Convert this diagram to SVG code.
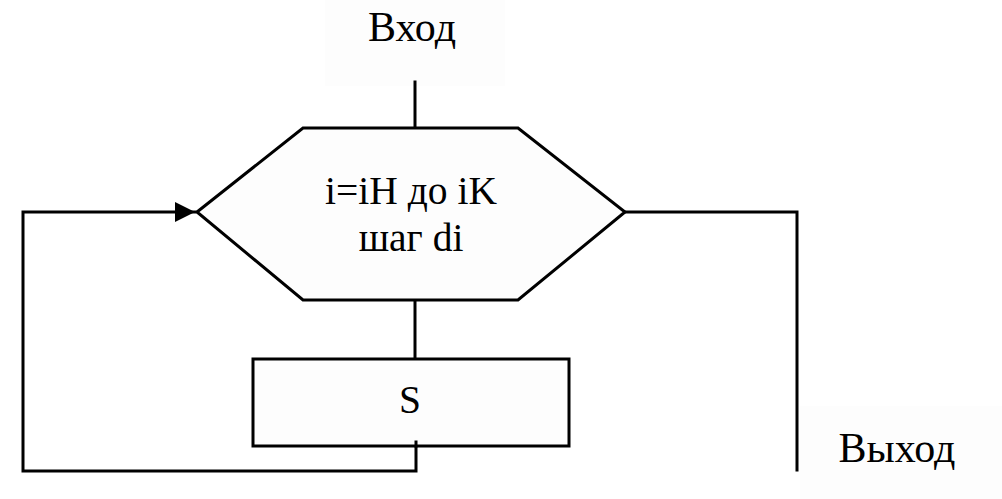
<svg xmlns="http://www.w3.org/2000/svg" width="1002" height="499" viewBox="0 0 1002 499">
<style>
.ln{fill:none;stroke:#000;stroke-width:3;stroke-linecap:square}
.sh{fill:#fdfdfd;stroke:#000;stroke-width:3;stroke-linejoin:miter}
.tx{font-family:'Liberation Serif','DejaVu Serif',serif;font-size:39.5px;fill:#000;text-anchor:middle}
.big{font-size:42px}
</style>
<defs>
<marker id="arr" markerWidth="20" markerHeight="20" refX="20" refY="10" orient="auto" markerUnits="userSpaceOnUse" viewBox="0 0 20 20">
<path d="M0,0 L20,10 L0,20 Z" fill="#000"/>
</marker>
</defs>
<rect width="1002" height="499" fill="#fff"/>
<g id="entry">
<rect x="325" y="0" width="180" height="86" fill="#fdfdfd"/>
<text class="tx big" x="412" y="41">Вход</text>
</g>
<g id="exit">
<rect x="800" y="406" width="202" height="93" fill="#fdfdfd"/>
<text class="tx big" x="897" y="462">Выход</text>
</g>
<g id="connectors">
<line class="ln" x1="415" y1="82" x2="415" y2="128"/>
<line class="ln" x1="415" y1="300" x2="415" y2="359"/>
<polyline class="ln" points="416,442 416,471 23,471 23,212 195,212" marker-end="url(#arr)"/>
<polyline class="ln" points="625,212 797,212 797,470"/>
</g>
<g id="loop">
<polygon class="sh" points="197,212 303,128 518,128 625,212 518,300 303,300"/>
<text class="tx" x="411" y="204">i=iH до iK</text>
<text class="tx" x="411" y="251">шаг di</text>
</g>
<g id="body">
<rect class="sh" x="253" y="359" width="316" height="87"/>
<text class="tx" x="410" y="413">S</text>
</g>
<line class="ln" x1="416" y1="442" x2="416" y2="446"/>
</svg>
